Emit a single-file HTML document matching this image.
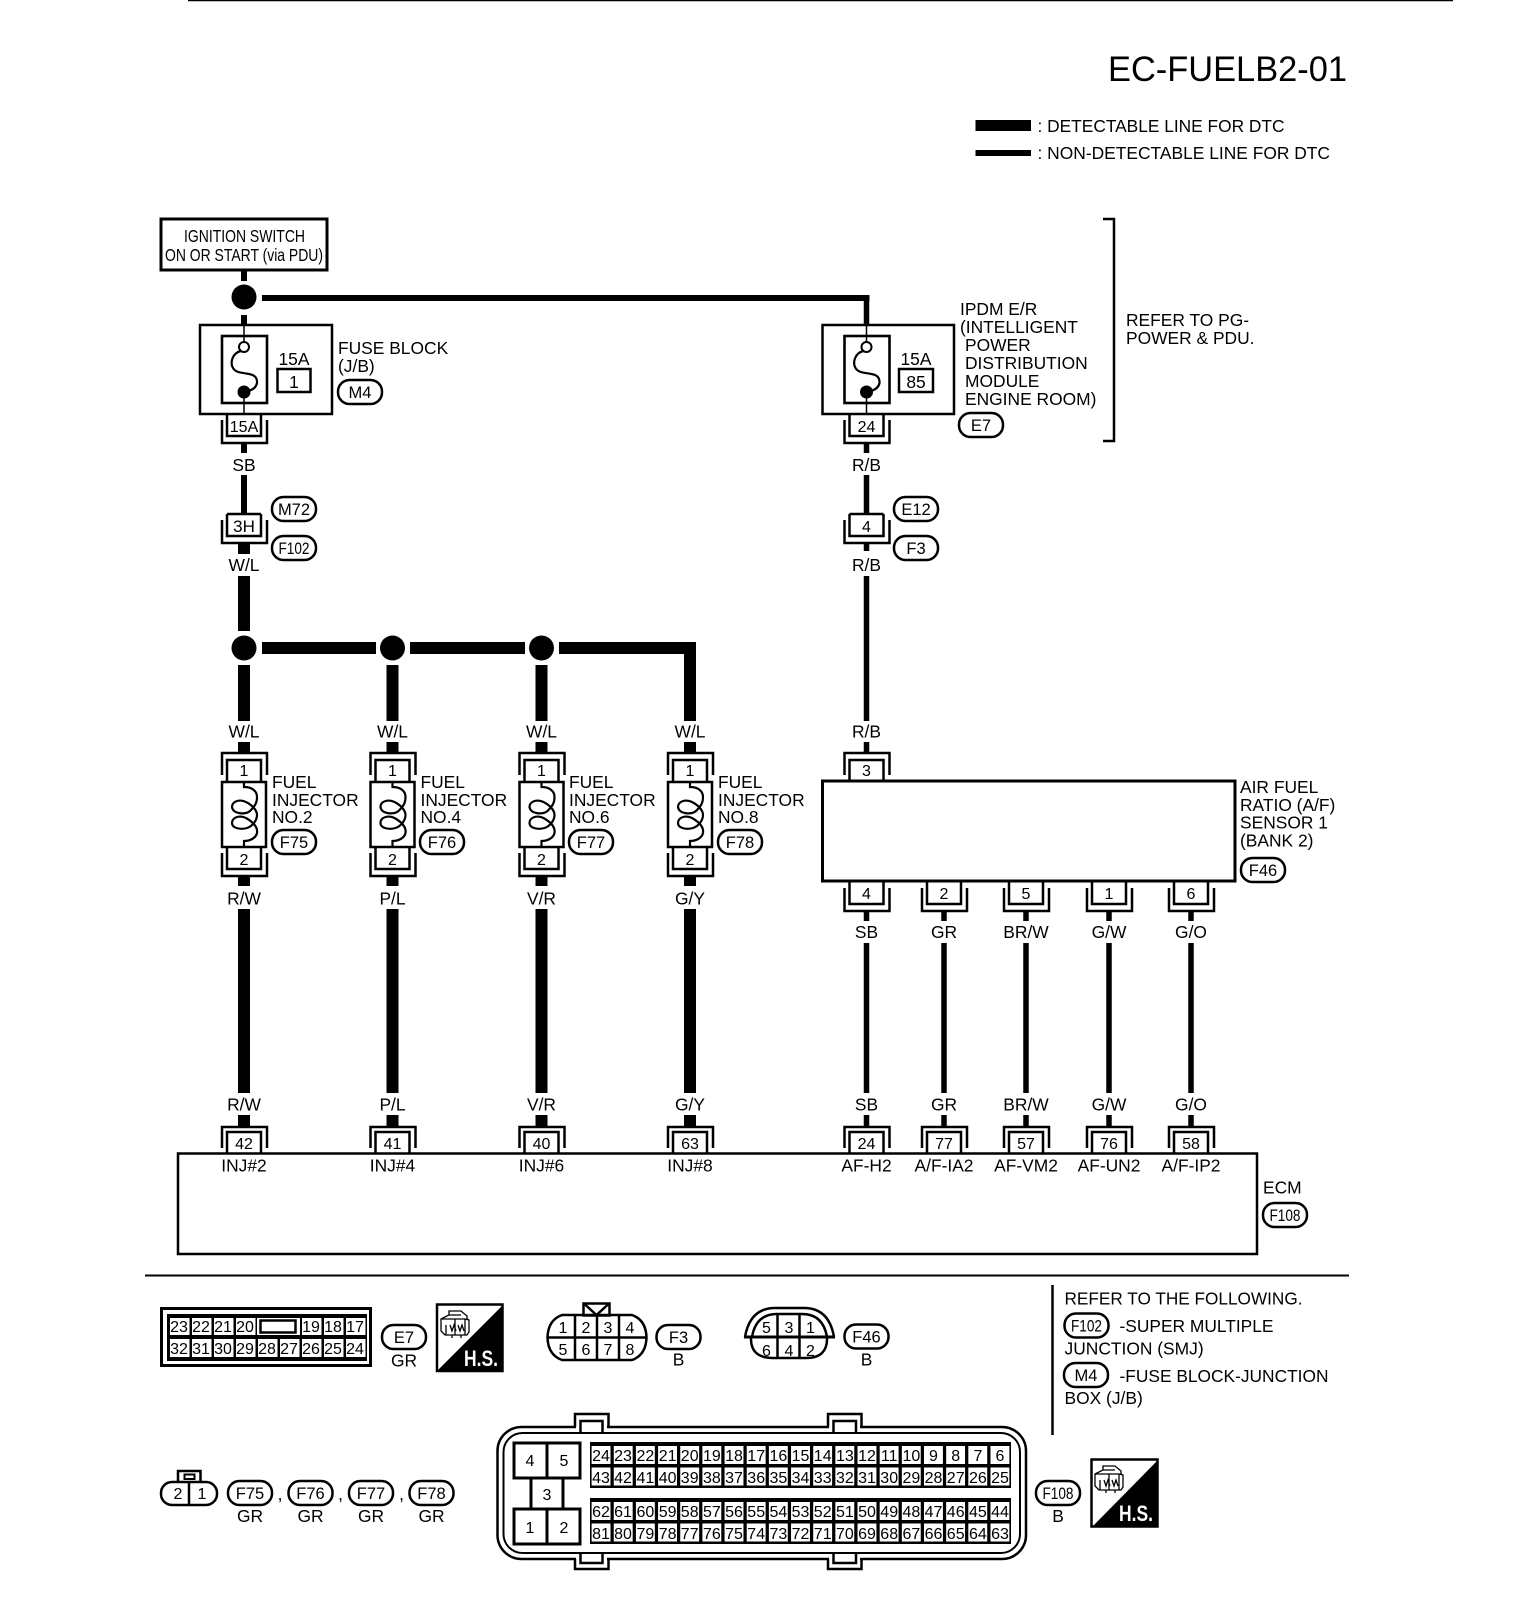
<!DOCTYPE html>
<html><head><meta charset="utf-8"><title>EC-FUELB2-01</title>
<style>
html,body{margin:0;padding:0;background:#fff}
svg{display:block}
text{font-family:"Liberation Sans",sans-serif;font-size:17.4px;fill:#000}
.m{text-anchor:middle}
.c{text-anchor:middle;font-size:16px}
.p{text-anchor:middle;font-size:16.5px}
.l{fill:none;stroke:#000;stroke-width:2.5}
.t{fill:none;stroke:#000;stroke-width:1.5}
.w{stroke:#000;stroke-width:12;fill:none}
.n{stroke:#000;stroke-width:5.5;fill:none}
.pill{fill:#fff;stroke:#000;stroke-width:2.5}
.hs{font-size:22px;font-weight:bold;fill:#fff;text-anchor:middle}
</style></head><body>
<svg xmlns="http://www.w3.org/2000/svg" width="1536" height="1614" viewBox="0 0 1536 1614">
<defs>
<g id="cu"><path class="l" d="M-22 22V0H23V22M-17 29V7H17V29"/></g>
<g id="ce"><path class="l" d="M-22 21V0H23V21M-17 26V5H17V26"/></g>
<g id="cd"><path class="l" d="M-17 0V22H17V0M-22 6V29H23V6"/></g>
<g id="pl"><rect class="pill" x="-22" y="-12" width="44" height="24" rx="11.5"/></g>
<g id="inj"><rect x="-22" y="0" width="44" height="65" class="l" style="fill:#fff"/>
<path style="fill:none;stroke:#000;stroke-width:2.2" d="M0 0V5C8 5 13 9 13 15C13 21 11 24 6 29C1 33-11 32-12 25C-12 19-4 17 2 20C8 23 13 28 13 33C13 38 9 44 3 46C-4 48-12 46-12 41C-12 35-4 33 2 36C9 40 14 45 13 51C12 56 6 59 0 59V65"/></g>
<g id="fuse"><rect x="-22" y="11" width="45" height="67" style="fill:none;stroke:#000;stroke-width:2.6"/>
<path class="t" d="M0 0V17M0 67V89"/><circle cx="0" cy="22" r="5" fill="#fff" stroke="#000" stroke-width="2"/><circle cx="0" cy="67" r="6.5" fill="#000"/>
<path style="fill:none;stroke:#000;stroke-width:2.2" d="M-3 26C-12 28-14 38-11 43C-6 52 14 44 13 58C12 63 8 65 4 66"/></g>
<g id="icon"><path style="fill:none;stroke:#000;stroke-width:1.3" d="M0 8L8 4V0H20L26 5V8L28 9V21L26 24H4L0 20ZM0 8H24L28 9M24 8V24M14 8V24M8 4H20M5 24V14M9 14L11 20L13 14L15 20M17 14L19 20L21 14L23 20M11 24V27M20 24V27"/></g>
</defs>

<line x1="188" y1="0.5" x2="1453" y2="0.5" stroke="#000" stroke-width="1.5"/>

<text x="1108" y="81" style="font-size:35px" textLength="239" lengthAdjust="spacingAndGlyphs">EC-FUELB2-01</text>
<rect x="975.5" y="120" width="55.5" height="11" fill="#000"/>
<rect x="975.5" y="150" width="55.5" height="6" fill="#000"/>
<text x="1037.5" y="132" textLength="247" lengthAdjust="spacingAndGlyphs">: DETECTABLE LINE FOR DTC</text>
<text x="1037.5" y="159" textLength="292.5" lengthAdjust="spacingAndGlyphs">: NON-DETECTABLE LINE FOR DTC</text>

<!-- ignition -->
<rect x="161" y="219" width="166" height="51" fill="#fff" stroke="#000" stroke-width="3"/>
<text x="184" y="242" textLength="121" lengthAdjust="spacingAndGlyphs">IGNITION SWITCH</text>
<text x="165" y="261" textLength="158" lengthAdjust="spacingAndGlyphs">ON OR START (via PDU)</text>
<path style="stroke:#000;stroke-width:6;fill:none" d="M244 270V281M244 315V325M244 442V453M244 475V514"/>
<circle cx="244" cy="297" r="12.5"/>
<path style="stroke:#000;stroke-width:6;fill:none" d="M262 298H869.5"/>
<path class="n" d="M866.5 295V325M866.5 442V453M866.5 475V514M866.5 542V551M866.5 576V721M866.5 742V753"/>

<!-- fuse block -->
<rect class="l" x="200" y="325" width="132" height="89"/>
<use href="#fuse" x="244" y="325"/>
<text class="m" x="294" y="365">15A</text>
<rect x="277.5" y="369" width="33" height="23" style="fill:none;stroke:#000;stroke-width:2.5"/>
<text class="m" x="294" y="388">1</text>
<text x="338" y="354">FUSE BLOCK</text>
<text x="338" y="372">(J/B)</text>
<use href="#pl" x="360" y="392"/><text class="p" x="360" y="398">M4</text>
<use href="#cd" x="244" y="414"/>
<text class="c" x="244" y="432">15A</text>
<text class="m" x="244" y="471">SB</text>
<use href="#cd" x="244" y="514"/><path class="l" d="M227 514H261"/>
<text class="c" x="244" y="532" style="font-size:17px">3H</text>
<use href="#pl" x="294" y="509"/><text class="p" x="294" y="515">M72</text>
<use href="#pl" x="294" y="548"/><text class="p" x="294" y="554" textLength="31" lengthAdjust="spacingAndGlyphs">F102</text>
<path class="w" d="M244 543V554M244 576V631"/>
<text class="m" x="244" y="571">W/L</text>

<!-- IPDM -->
<rect class="l" x="822.5" y="325" width="131.5" height="89"/>
<use href="#fuse" x="866.5" y="325"/>
<text class="m" x="916" y="365">15A</text>
<rect x="899" y="369" width="34" height="23" style="fill:none;stroke:#000;stroke-width:2.5"/>
<text class="m" x="916" y="388">85</text>
<text x="960" y="315">IPDM E/R</text>
<text x="960" y="333">(INTELLIGENT</text>
<text x="965" y="351">POWER</text>
<text x="965" y="369">DISTRIBUTION</text>
<text x="965" y="387">MODULE</text>
<text x="965" y="405">ENGINE ROOM)</text>
<use href="#pl" x="981" y="425"/><text class="p" x="981" y="431">E7</text>
<path class="l" d="M1103 219H1114V441H1103"/>
<text x="1126" y="326">REFER TO PG-</text>
<text x="1126" y="344">POWER &amp; PDU.</text>
<use href="#cd" x="866.5" y="414"/>
<text class="c" x="866.5" y="432">24</text>
<text class="m" x="866.5" y="471">R/B</text>
<use href="#cd" x="866.5" y="514"/><path class="l" d="M849.5 514H883.5"/>
<text class="c" x="866.5" y="532">4</text>
<use href="#pl" x="916" y="509"/><text class="p" x="916" y="515">E12</text>
<use href="#pl" x="916" y="548"/><text class="p" x="916" y="554">F3</text>
<text class="m" x="866.5" y="571">R/B</text>
<text class="m" x="866.5" y="737.5">R/B</text>

<!-- junctions -->
<path class="w" d="M262 648H376M410 648H525M559 648H696M690 642V721M244 665V721M392.5 665V721M541.5 665V721"/>
<circle cx="244" cy="648" r="12.5"/><circle cx="392.5" cy="648" r="12.5"/><circle cx="541.5" cy="648" r="12.5"/>
<text class="m" x="244" y="737.5">W/L</text><text class="m" x="392.5" y="737.5">W/L</text><text class="m" x="541.5" y="737.5">W/L</text><text class="m" x="690" y="737.5">W/L</text>

<!-- injector wires -->
<path class="w" d="M244 742V753M244 876V886M244 909V1093M244 1115V1127M392.5 742V753M392.5 876V886M392.5 909V1093M392.5 1115V1127M541.5 742V753M541.5 876V886M541.5 909V1093M541.5 1115V1127M690 742V753M690 876V886M690 909V1093M690 1115V1127"/>

<!-- injectors -->
<use href="#cu" x="244" y="753"/><use href="#inj" x="244" y="782"/><use href="#cd" x="244" y="847"/>
<text class="c" x="244" y="776">1</text><text class="c" x="244" y="865">2</text>
<text x="272" y="788">FUEL</text><text x="272" y="806">INJECTOR</text><text x="272" y="823">NO.2</text>
<use href="#pl" x="294" y="842"/><text class="p" x="294" y="848">F75</text>
<text class="m" x="244" y="904.5">R/W</text><text class="m" x="244" y="1110.5">R/W</text>

<use href="#cu" x="392.5" y="753"/><use href="#inj" x="392.5" y="782"/><use href="#cd" x="392.5" y="847"/>
<text class="c" x="392.5" y="776">1</text><text class="c" x="392.5" y="865">2</text>
<text x="420.5" y="788">FUEL</text><text x="420.5" y="806">INJECTOR</text><text x="420.5" y="823">NO.4</text>
<use href="#pl" x="442" y="842"/><text class="p" x="442" y="848">F76</text>
<text class="m" x="392.5" y="904.5">P/L</text><text class="m" x="392.5" y="1110.5">P/L</text>

<use href="#cu" x="541.5" y="753"/><use href="#inj" x="541.5" y="782"/><use href="#cd" x="541.5" y="847"/>
<text class="c" x="541.5" y="776">1</text><text class="c" x="541.5" y="865">2</text>
<text x="569" y="788">FUEL</text><text x="569" y="806">INJECTOR</text><text x="569" y="823">NO.6</text>
<use href="#pl" x="591" y="842"/><text class="p" x="591" y="848">F77</text>
<text class="m" x="541.5" y="904.5">V/R</text><text class="m" x="541.5" y="1110.5">V/R</text>

<use href="#cu" x="690" y="753"/><use href="#inj" x="690" y="782"/><use href="#cd" x="690" y="847"/>
<text class="c" x="690" y="776">1</text><text class="c" x="690" y="865">2</text>
<text x="718" y="788">FUEL</text><text x="718" y="806">INJECTOR</text><text x="718" y="823">NO.8</text>
<use href="#pl" x="740" y="842"/><text class="p" x="740" y="848">F78</text>
<text class="m" x="690" y="904.5">G/Y</text><text class="m" x="690" y="1110.5">G/Y</text>

<!-- AF sensor -->
<use href="#cu" x="866.5" y="753"/>
<text class="c" x="866.5" y="776">3</text>
<rect x="822.5" y="781" width="412.5" height="100" fill="#fff" stroke="#000" stroke-width="3"/>
<text x="1240" y="793">AIR FUEL</text>
<text x="1240" y="811">RATIO (A/F)</text>
<text x="1240" y="828.5">SENSOR 1</text>
<text x="1240" y="846.5">(BANK 2)</text>
<use href="#pl" x="1263" y="870"/><text class="p" x="1263" y="876">F46</text>

<use href="#cd" x="866.5" y="882"/><text class="c" x="866.5" y="899">4</text>
<use href="#cd" x="944" y="882"/><text class="c" x="944" y="899">2</text>
<use href="#cd" x="1026" y="882"/><text class="c" x="1026" y="899">5</text>
<use href="#cd" x="1109" y="882"/><text class="c" x="1109" y="899">1</text>
<use href="#cd" x="1191" y="882"/><text class="c" x="1191" y="899">6</text>
<path class="n" d="M866.5 910V921M866.5 943V1093M866.5 1115V1127M944 910V921M944 943V1093M944 1115V1127M1026 910V921M1026 943V1093M1026 1115V1127M1109 910V921M1109 943V1093M1109 1115V1127M1191 910V921M1191 943V1093M1191 1115V1127"/>
<text class="m" x="866.5" y="938">SB</text><text class="m" x="944" y="938">GR</text><text class="m" x="1026" y="938">BR/W</text><text class="m" x="1109" y="938">G/W</text><text class="m" x="1191" y="938">G/O</text>
<text class="m" x="866.5" y="1110.5">SB</text><text class="m" x="944" y="1110.5">GR</text><text class="m" x="1026" y="1110.5">BR/W</text><text class="m" x="1109" y="1110.5">G/W</text><text class="m" x="1191" y="1110.5">G/O</text>

<!-- ECM -->
<use href="#ce" x="244" y="1127"/><use href="#ce" x="392.5" y="1127"/><use href="#ce" x="541.5" y="1127"/><use href="#ce" x="690" y="1127"/>
<use href="#ce" x="866.5" y="1127"/><use href="#ce" x="944" y="1127"/><use href="#ce" x="1026" y="1127"/><use href="#ce" x="1109" y="1127"/><use href="#ce" x="1191" y="1127"/>
<rect x="178" y="1153.5" width="1079" height="100.5" fill="none" stroke="#000" stroke-width="2.5"/>
<text class="c" x="244" y="1149">42</text><text class="c" x="392.5" y="1149">41</text><text class="c" x="541.5" y="1149">40</text><text class="c" x="690" y="1149">63</text>
<text class="c" x="866.5" y="1149">24</text><text class="c" x="944" y="1149">77</text><text class="c" x="1026" y="1149">57</text><text class="c" x="1109" y="1149">76</text><text class="c" x="1191" y="1149">58</text>
<text class="m" x="244" y="1171.5">INJ#2</text><text class="m" x="392.5" y="1171.5">INJ#4</text><text class="m" x="541.5" y="1171.5">INJ#6</text><text class="m" x="690" y="1171.5">INJ#8</text>
<text class="m" x="866.5" y="1171.5">AF-H2</text><text class="m" x="944" y="1171.5">A/F-IA2</text><text class="m" x="1026" y="1171.5">AF-VM2</text><text class="m" x="1109" y="1171.5">AF-UN2</text><text class="m" x="1191" y="1171.5">A/F-IP2</text>
<text x="1263" y="1193.5">ECM</text>
<use href="#pl" x="1285" y="1215"/><text class="p" x="1285" y="1221" textLength="31" lengthAdjust="spacingAndGlyphs">F108</text>

<line x1="145" y1="1275.5" x2="1349" y2="1275.5" stroke="#000" stroke-width="2"/>

<!-- E7 connector -->
<rect x="161.5" y="1308.5" width="209" height="57" fill="#fff" stroke="#000" stroke-width="3"/>
<rect x="167" y="1314" width="200" height="47" fill="#000"/>
<line x1="170" y1="1326.5" x2="367" y2="1326.5" stroke="#fff" stroke-width="17" stroke-dasharray="19.5 2.5"/>
<line x1="170" y1="1348" x2="367" y2="1348" stroke="#fff" stroke-width="18" stroke-dasharray="19.5 2.5"/>
<rect x="257" y="1318" width="43" height="17" fill="#fff"/>
<rect x="260.5" y="1320.5" width="35" height="12" fill="none" stroke="#000" stroke-width="2.5"/>
<text class="c" x="179" y="1332">23</text><text class="c" x="201" y="1332">22</text><text class="c" x="223" y="1332">21</text><text class="c" x="245" y="1332">20</text><text class="c" x="311" y="1332">19</text><text class="c" x="333" y="1332">18</text><text class="c" x="355" y="1332">17</text>
<text class="c" x="179" y="1354">32</text><text class="c" x="201" y="1354">31</text><text class="c" x="223" y="1354">30</text><text class="c" x="245" y="1354">29</text><text class="c" x="267" y="1354">28</text><text class="c" x="289" y="1354">27</text><text class="c" x="311" y="1354">26</text><text class="c" x="333" y="1354">25</text><text class="c" x="355" y="1354">24</text>
<use href="#pl" x="404" y="1337"/><text class="p" x="404" y="1343">E7</text>
<text class="m" x="404" y="1366.5">GR</text>

<!-- HS 1 -->
<rect x="437" y="1304.5" width="65.5" height="66.5" fill="#fff" stroke="#000" stroke-width="2.5"/>
<polygon points="502,1306 502,1370 438,1370" fill="#000"/>
<use href="#icon" x="441" y="1311"/>
<text class="hs" x="481" y="1366" textLength="34" lengthAdjust="spacingAndGlyphs">H.S.</text>

<!-- F3 connector -->
<rect class="l" x="583.5" y="1303.5" width="26" height="12" style="fill:#fff"/>
<path style="fill:none;stroke:#000;stroke-width:2.5" d="M584.5 1304L596.5 1315L608.5 1304"/>
<path class="l" d="M562 1315H632Q646 1320 646.5 1337.5Q646 1355 632 1360H562Q548 1355 547.5 1337.5Q548 1320 562 1315Z"/>
<path class="l" d="M547 1337.5H647M575 1315V1360M597 1315V1360M619 1315V1360"/>
<text class="c" x="563" y="1333">1</text><text class="c" x="586" y="1333">2</text><text class="c" x="608" y="1333">3</text><text class="c" x="630" y="1333">4</text>
<text class="c" x="563" y="1355">5</text><text class="c" x="586" y="1355">6</text><text class="c" x="608" y="1355">7</text><text class="c" x="630" y="1355">8</text>
<use href="#pl" x="678.5" y="1337"/><text class="p" x="678.5" y="1343">F3</text>
<text class="m" x="678.5" y="1365.5">B</text>

<!-- F46 connector -->
<path class="l" d="M751 1337Q750 1358 773 1358H806Q828 1358 827 1337M745 1337Q750 1308 775 1308H804Q829 1308 834 1337M752 1337Q756 1314 777 1314H802Q823 1314 827 1337"/>
<path d="M744 1337H835" style="fill:none;stroke:#000;stroke-width:3"/>
<path class="l" d="M777.5 1314V1358M799.5 1314V1358"/>
<text class="c" x="766.5" y="1333">5</text><text class="c" x="789" y="1333">3</text><text class="c" x="810.5" y="1333">1</text>
<text class="c" x="766.5" y="1356">6</text><text class="c" x="789" y="1356">4</text><text class="c" x="810.5" y="1356">2</text>
<use href="#pl" x="866.5" y="1336.5"/><text class="p" x="866.5" y="1342.5">F46</text>
<text class="m" x="866.5" y="1365.5">B</text>

<!-- note -->
<line x1="1052.5" y1="1285" x2="1052.5" y2="1435" stroke="#000" stroke-width="2.5"/>
<text x="1064.5" y="1304.5" textLength="238" lengthAdjust="spacingAndGlyphs">REFER TO THE FOLLOWING.</text>
<use href="#pl" x="1086.5" y="1325.5"/><text class="p" x="1086.5" y="1331.5" textLength="31" lengthAdjust="spacingAndGlyphs">F102</text>
<text x="1119.5" y="1332" textLength="154" lengthAdjust="spacingAndGlyphs">-SUPER MULTIPLE</text>
<text x="1064.5" y="1354.5">JUNCTION (SMJ)</text>
<use href="#pl" x="1086" y="1375"/><text class="p" x="1086" y="1381">M4</text>
<text x="1119.5" y="1382" textLength="209" lengthAdjust="spacingAndGlyphs">-FUSE BLOCK-JUNCTION</text>
<text x="1064.5" y="1404">BOX (J/B)</text>

<!-- 2-pin connector -->
<path class="l" d="M178 1482V1471H200.5V1482"/>
<rect x="184.5" y="1474.5" width="10" height="4.5" fill="none" stroke="#000" stroke-width="2"/>
<rect class="l" x="161" y="1482" width="56" height="23" rx="11"/>
<path class="l" d="M189 1482V1505"/>
<text class="c" x="178" y="1499">2</text><text class="c" x="202" y="1499">1</text>
<use href="#pl" x="250" y="1493"/><text class="p" x="250" y="1499">F75</text>
<use href="#pl" x="310.5" y="1493"/><text class="p" x="310.5" y="1499">F76</text>
<use href="#pl" x="371" y="1493"/><text class="p" x="371" y="1499">F77</text>
<use href="#pl" x="431.5" y="1493"/><text class="p" x="431.5" y="1499">F78</text>
<text class="m" x="280" y="1500">,</text><text class="m" x="340.5" y="1500">,</text><text class="m" x="401.5" y="1500">,</text>
<text class="m" x="250" y="1522">GR</text><text class="m" x="310.5" y="1522">GR</text><text class="m" x="371" y="1522">GR</text><text class="m" x="431.5" y="1522">GR</text>

<!-- ECM connector -->
<rect class="l" x="497.5" y="1427" width="528.5" height="132" rx="24"/>
<rect x="503.5" y="1433" width="516.5" height="120" rx="19" style="fill:none;stroke:#000;stroke-width:2"/>
<rect x="576" y="1425" width="31" height="5" fill="#fff"/><rect x="829" y="1425" width="31" height="5" fill="#fff"/>
<rect x="576" y="1556" width="31" height="5" fill="#fff"/><rect x="829" y="1556" width="31" height="5" fill="#fff"/>
<path class="l" d="M575 1427V1414H608.5V1427M828 1427V1414H861.5V1427M580.5 1433V1421H602.5V1433M833.5 1433V1421H856V1433"/>
<path class="l" d="M575 1559V1569H608.5V1559M828 1559V1569H861.5V1559M580.5 1553V1563H602.5V1553M833.5 1553V1563H856V1553"/>
<g fill="#fff" stroke="#000" stroke-width="3">
<rect x="514" y="1443" width="33" height="35"/><rect x="547" y="1443" width="33" height="35"/>
<rect x="531" y="1478" width="32" height="31"/>
<rect x="514" y="1509" width="33" height="35"/><rect x="547" y="1509" width="33" height="35"/>
</g>
<text class="c" x="530" y="1466">4</text><text class="c" x="564" y="1466">5</text><text class="c" x="547" y="1500">3</text><text class="c" x="530" y="1533">1</text><text class="c" x="564" y="1533">2</text>

<rect x="590" y="1442" width="421" height="46" fill="#000"/>
<rect x="590" y="1498" width="421" height="46" fill="#000"/>
<g stroke="#fff" stroke-dasharray="18.9 3.26">
<line x1="591.6" y1="1455" x2="1010" y2="1455" stroke-width="18"/>
<line x1="591.6" y1="1476.5" x2="1010" y2="1476.5" stroke-width="18"/>
<line x1="591.6" y1="1511" x2="1010" y2="1511" stroke-width="18"/>
<line x1="591.6" y1="1532.5" x2="1010" y2="1532.5" stroke-width="18"/>
</g>
<g>
<text class="c" x="601" y="1461">24</text><text class="c" x="623" y="1461">23</text><text class="c" x="645.4" y="1461">22</text><text class="c" x="667.6" y="1461">21</text><text class="c" x="689.7" y="1461">20</text><text class="c" x="711.9" y="1461">19</text><text class="c" x="734" y="1461">18</text><text class="c" x="756.2" y="1461">17</text><text class="c" x="778.4" y="1461">16</text><text class="c" x="800.5" y="1461">15</text><text class="c" x="822.7" y="1461">14</text><text class="c" x="844.9" y="1461">13</text><text class="c" x="867" y="1461">12</text><text class="c" x="889.2" y="1461">11</text><text class="c" x="911.4" y="1461">10</text><text class="c" x="933.5" y="1461">9</text><text class="c" x="955.7" y="1461">8</text><text class="c" x="977.9" y="1461">7</text><text class="c" x="1000" y="1461">6</text>
<text class="c" x="601" y="1483">43</text><text class="c" x="623" y="1483">42</text><text class="c" x="645.4" y="1483">41</text><text class="c" x="667.6" y="1483">40</text><text class="c" x="689.7" y="1483">39</text><text class="c" x="711.9" y="1483">38</text><text class="c" x="734" y="1483">37</text><text class="c" x="756.2" y="1483">36</text><text class="c" x="778.4" y="1483">35</text><text class="c" x="800.5" y="1483">34</text><text class="c" x="822.7" y="1483">33</text><text class="c" x="844.9" y="1483">32</text><text class="c" x="867" y="1483">31</text><text class="c" x="889.2" y="1483">30</text><text class="c" x="911.4" y="1483">29</text><text class="c" x="933.5" y="1483">28</text><text class="c" x="955.7" y="1483">27</text><text class="c" x="977.9" y="1483">26</text><text class="c" x="1000" y="1483">25</text>
<text class="c" x="601" y="1517">62</text><text class="c" x="623" y="1517">61</text><text class="c" x="645.4" y="1517">60</text><text class="c" x="667.6" y="1517">59</text><text class="c" x="689.7" y="1517">58</text><text class="c" x="711.9" y="1517">57</text><text class="c" x="734" y="1517">56</text><text class="c" x="756.2" y="1517">55</text><text class="c" x="778.4" y="1517">54</text><text class="c" x="800.5" y="1517">53</text><text class="c" x="822.7" y="1517">52</text><text class="c" x="844.9" y="1517">51</text><text class="c" x="867" y="1517">50</text><text class="c" x="889.2" y="1517">49</text><text class="c" x="911.4" y="1517">48</text><text class="c" x="933.5" y="1517">47</text><text class="c" x="955.7" y="1517">46</text><text class="c" x="977.9" y="1517">45</text><text class="c" x="1000" y="1517">44</text>
<text class="c" x="601" y="1539">81</text><text class="c" x="623" y="1539">80</text><text class="c" x="645.4" y="1539">79</text><text class="c" x="667.6" y="1539">78</text><text class="c" x="689.7" y="1539">77</text><text class="c" x="711.9" y="1539">76</text><text class="c" x="734" y="1539">75</text><text class="c" x="756.2" y="1539">74</text><text class="c" x="778.4" y="1539">73</text><text class="c" x="800.5" y="1539">72</text><text class="c" x="822.7" y="1539">71</text><text class="c" x="844.9" y="1539">70</text><text class="c" x="867" y="1539">69</text><text class="c" x="889.2" y="1539">68</text><text class="c" x="911.4" y="1539">67</text><text class="c" x="933.5" y="1539">66</text><text class="c" x="955.7" y="1539">65</text><text class="c" x="977.9" y="1539">64</text><text class="c" x="1000" y="1539">63</text>
</g>
<use href="#pl" x="1058" y="1493"/><text class="p" x="1058" y="1499" textLength="31" lengthAdjust="spacingAndGlyphs">F108</text>
<text class="m" x="1058" y="1522">B</text>

<!-- HS 2 -->
<rect x="1091.5" y="1459.5" width="66" height="67" fill="#fff" stroke="#000" stroke-width="2.5"/>
<polygon points="1157,1461 1157,1526 1093,1526" fill="#000"/>
<use href="#icon" x="1095" y="1466"/>
<text class="hs" x="1136" y="1521" textLength="34" lengthAdjust="spacingAndGlyphs">H.S.</text>
</svg>
</body></html>
